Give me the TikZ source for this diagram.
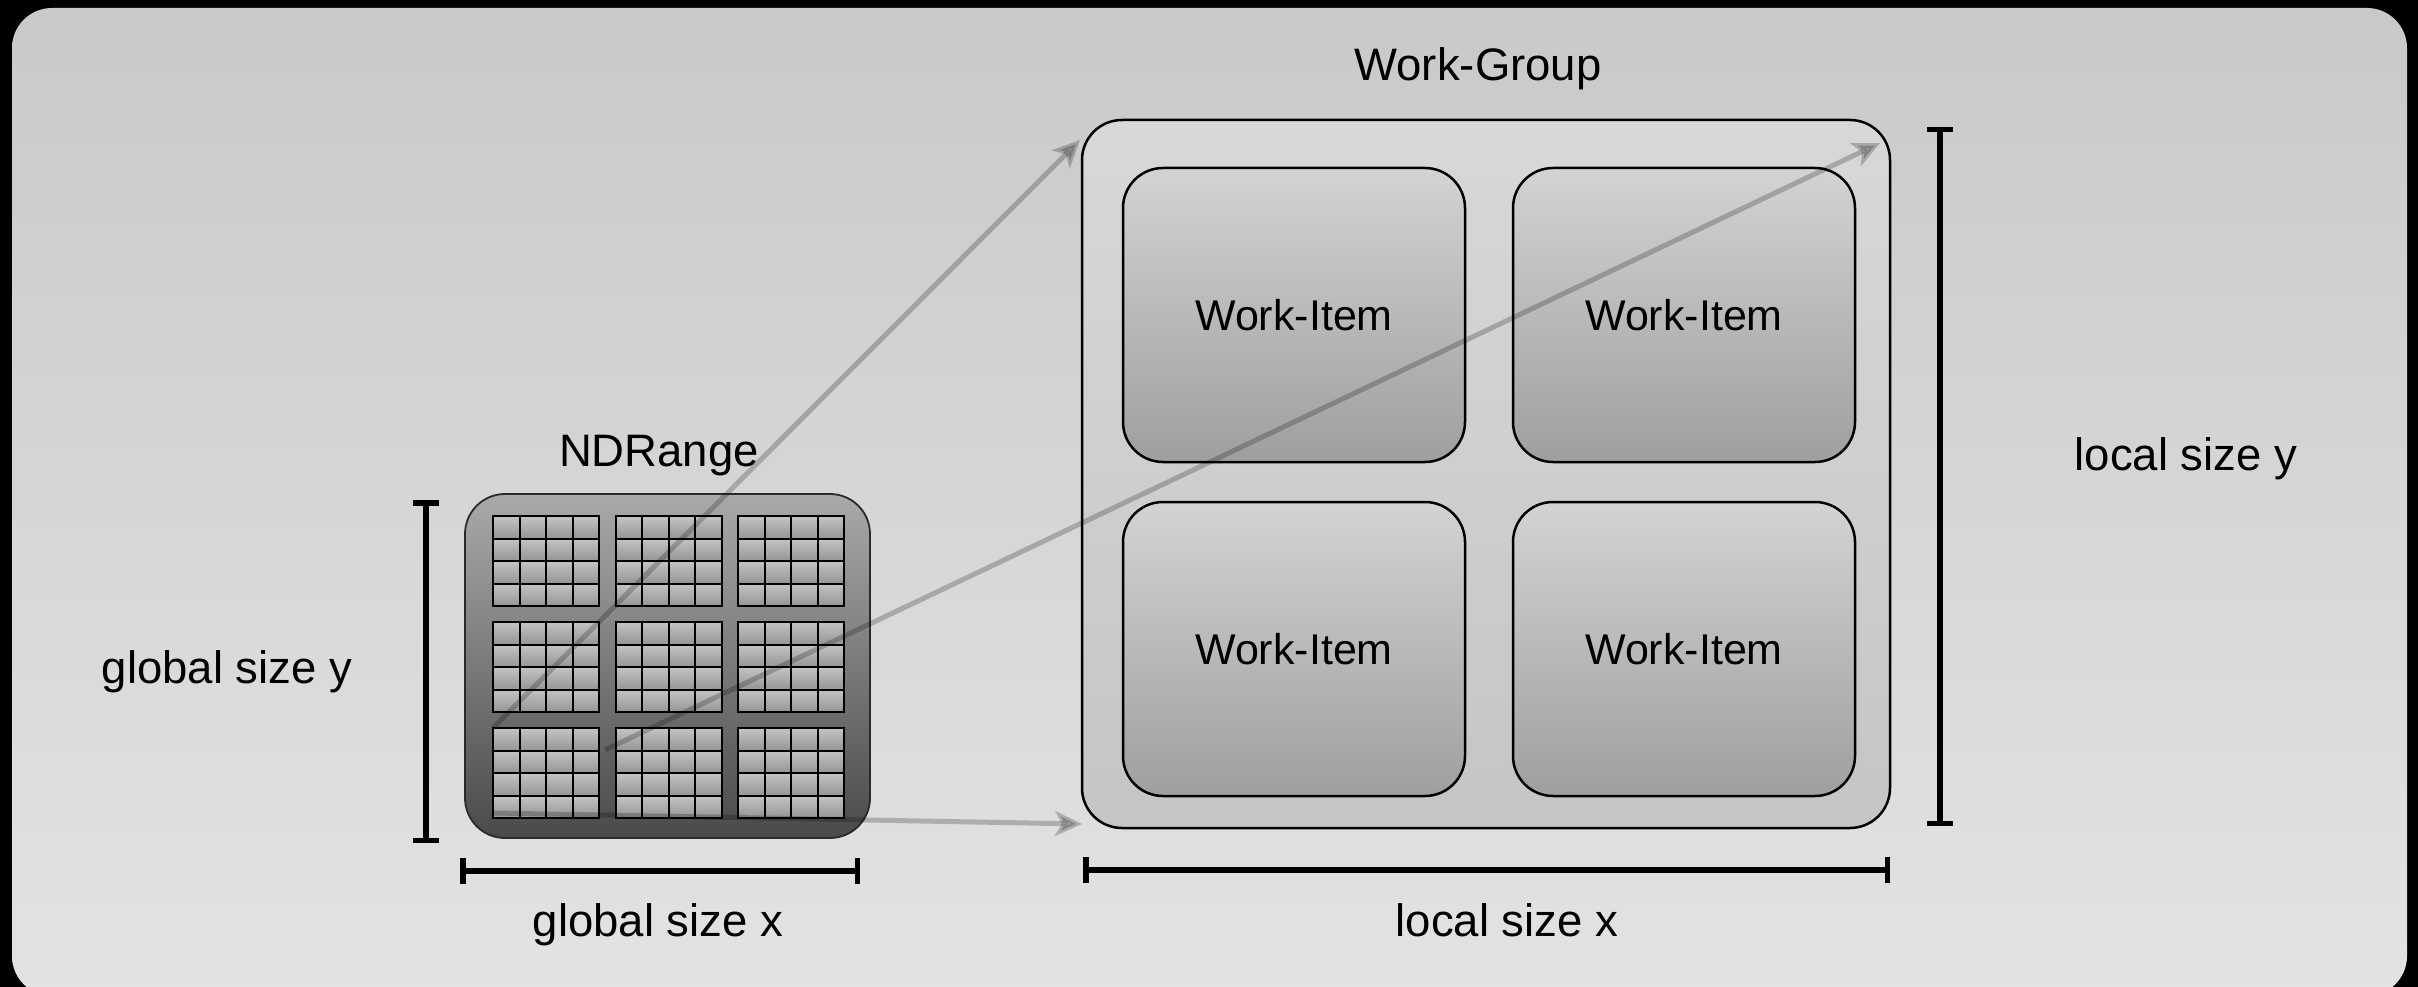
\documentclass[tikz,border=0pt]{standalone}
\usepackage{fontspec}
\setmainfont{Liberation Sans}
\usetikzlibrary{arrows.meta}
\definecolor{panelTop}{HTML}{C9C9C9}
\definecolor{panelBot}{HTML}{E3E3E3}
\definecolor{wgTop}{HTML}{D8D8D8}
\definecolor{wgBot}{HTML}{C5C5C5}
\definecolor{wiTop}{HTML}{D3D3D3}
\definecolor{wiBot}{HTML}{9F9F9F}
\definecolor{ndTop}{HTML}{A9A9A9}
\definecolor{ndBot}{HTML}{4A4A4A}
\definecolor{ndEdge}{HTML}{2A2A2A}
\definecolor{cellTop}{HTML}{C4C4C4}
\definecolor{cellBot}{HTML}{959595}
\begin{document}
\begin{tikzpicture}[x=1pt,y=-1pt,
  lbl/.style={font=\fontsize{45.5}{52}\selectfont, text=black, inner sep=0pt, anchor=base},
  wgbox/.style={draw=black, line width=2.5pt, rounded corners=40pt, top color=wgTop, bottom color=wgBot,
                inner sep=0pt, outer sep=0pt, minimum width=808pt, minimum height=708pt},
  itembox/.style={draw=black, line width=2.5pt, rounded corners=40pt, top color=wiTop, bottom color=wiBot,
                  inner sep=0pt, outer sep=0pt, minimum width=342pt, minimum height=294pt,
                  font=\fontsize{43}{50}\selectfont},
  ndbox/.style={draw=ndEdge, line width=1.8pt, rounded corners=40pt, top color=ndTop, bottom color=ndBot,
                inner sep=0pt, outer sep=0pt, minimum width=405pt, minimum height=344pt},
  blockbox/.style={draw=black, line width=2pt, inner sep=0pt, outer sep=0pt,
                   minimum width=106pt, minimum height=90pt},
  cellshade/.style={top color=cellTop, bottom color=cellBot},
  gridline/.style={draw=black, line width=2pt},
  conn/.style={draw=black, opacity=0.22, line width=5pt,
               -{Stealth[length=27pt,width=25pt,inset=7pt]}},
  dimbar/.style={draw=black, line width=5.5pt,
                 {Bar[width=26pt]}-{Bar[width=26pt]}}
]
\useasboundingbox (0,0) rectangle (2418,987);

% dark frame and rounded light panel
\fill[black] (0,0) rectangle (2418,987);
\shade[top color=panelTop, bottom color=panelBot, rounded corners=40pt] (12,8) rectangle (2407,996);

% NDRange with its 3x3 blocks of 4x4 cells
\node[ndbox] (nd) at (667.5,666) {};
\foreach \c in {0,1,2} {
  \foreach \r in {0,1,2} {
    \foreach \i in {0,1,2,3} {
      \foreach \j in {0,1,2,3} {
        \shade[cellshade] ({493+122.5*\c+26.5*\i},{516+106*\r+22.5*\j}) rectangle ++(26.5,22.5);
      }
    }
    \node[blockbox] (b\c\r) at ({546+122.5*\c},{561+106*\r}) {};
    \foreach \k in {1,2,3} {
      \draw[gridline] ({493+122.5*\c+26.5*\k},{516+106*\r}) -- ++(0,90);
      \draw[gridline] ({493+122.5*\c},{516+106*\r+22.5*\k}) -- ++(106,0);
    }
  }
}
\node[lbl] (ndlbl) at (659,466) {NDRange};

% Work-Group with four work-items
\node[wgbox] (wg) at (1486,474) {};
\node[lbl] (wglbl) at (1478,81) {Work-Group};
\node[itembox] (wi1) at (1294,315) {Work-Item};
\node[itembox] (wi2) at (1684,315) {Work-Item};
\node[itembox] (wi3) at (1294,649) {Work-Item};
\node[itembox] (wi4) at (1684,649) {Work-Item};

% projection arrows from the NDRange onto the work-group
\coordinate (s2) at (605,750);
\coordinate (s3) at (493,813);
\coordinate (t1) at (1080,140);
\coordinate (t2) at (1880,143);
\coordinate (t3) at (1082,824);
\draw[conn] (b02.north west) -- (t1);
\draw[conn] (s2) -- (t2);
\draw[conn] (s3) -- (t3);

% size bars
\coordinate (gy1) at (426,500);
\coordinate (gy2) at (426,843);
\coordinate (gx1) at (460,871);
\coordinate (gx2) at (860,871);
\coordinate (lx1) at (1083,870);
\coordinate (lx2) at (1890,870);
\coordinate (ly1) at (1940,127);
\coordinate (ly2) at (1940,826);
\draw[dimbar] (gy1) -- (gy2);
\draw[dimbar] (gx1) -- (gx2);
\draw[dimbar] (lx1) -- (lx2);
\draw[dimbar] (ly1) -- (ly2);

\node[lbl] (gylbl) at (227,683) {global size y};
\node[lbl] (gxlbl) at (658,936) {global size x};
\node[lbl] (lxlbl) at (1507,936) {local size x};
\node[lbl] (lylbl) at (2186,470) {local size y};
\end{tikzpicture}
\end{document}
